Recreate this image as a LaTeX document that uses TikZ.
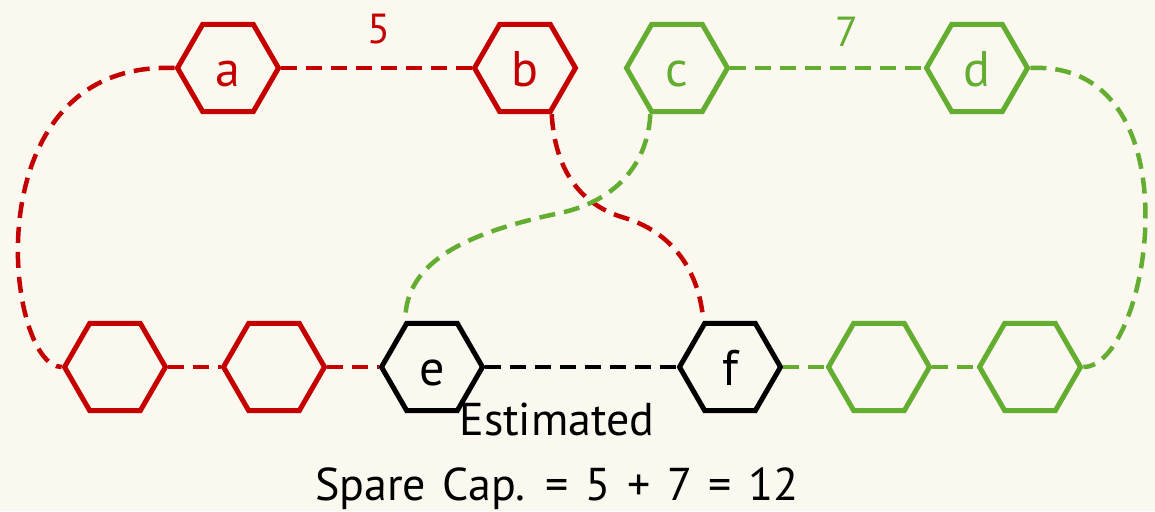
\documentclass[tikz,border=0pt]{standalone}
\usepackage{fontspec}
\setmainfont{PT Sans}
\newfontfamily\capfont[WordSpace=1.35]{PT Sans}
\usetikzlibrary{shapes.geometric}
\definecolor{bgc}{RGB}{251,248,240}
\definecolor{redc}{RGB}{196,0,0}
\definecolor{greenc}{RGB}{99,173,48}
\definecolor{blackc}{RGB}{0,0,0}
\begin{document}
\begin{tikzpicture}[x=1pt,y=-1pt,
  hexa/.style={regular polygon, regular polygon sides=6, minimum size=101pt,
    inner sep=0pt, line width=5pt, line join=miter,
    font=\fontsize{50}{50}\selectfont, text height=36pt, text depth=0pt},
  rhex/.style={hexa, draw=redc, text=redc},
  ghex/.style={hexa, draw=greenc, text=greenc},
  khex/.style={hexa, draw=blackc, text=blackc},
  link/.style={line width=4.5pt, dash pattern=on 16pt off 9pt},
  rlink/.style={link, draw=redc},
  glink/.style={link, draw=greenc},
  klink/.style={link, draw=blackc},
  wlabel/.style={font=\fontsize{42}{42}\selectfont, anchor=base},
  caption/.style={font=\capfont\fontsize{46}{46}\selectfont, anchor=base}]
\fill[bgc] (0,0) rectangle (1155,511);
\useasboundingbox (0,0) rectangle (1155,511);
% top row
\node[rhex] (a) at (228,68) {a};
\node[rhex] (b) at (525,68) {b};
\node[ghex] (c) at (677,68) {c};
\node[ghex] (d) at (977,68) {d};
% bottom row
\node[rhex] (r1) at (115,367) {};
\node[rhex] (r2) at (274,367) {};
\node[khex] (e) at (432,367) {e};
\node[khex] (f) at (730,367) {f};
\node[ghex] (g1) at (879,367) {};
\node[ghex] (g2) at (1030,367) {};
% weights
\node[wlabel, text=redc] (w5) at (379,44) {5};
\node[wlabel, text=greenc] (w7) at (847,47) {7};
% straight links
\draw[rlink] (a.0) -- (b.180);
\draw[glink] (c.0) -- (d.180);
\draw[rlink] (r1.0) -- (r2.180);
\draw[rlink] (r2.0) -- (e.180);
\draw[klink] (e.0) -- (f.180);
\draw[glink] (f.0) -- (g1.180);
\draw[glink] (g1.0) -- (g2.180);
% curved links
\draw[rlink] (a.180) .. controls (-30,60) and (5,367) .. (r1.180);
\draw[glink] (d.0) .. controls (1200,60) and (1150,367) .. (g2.0);
\draw[rlink] (b.300) .. controls (555,170) and (580,205) .. (625,218)
  .. controls (680,235) and (700,280) .. (f.120);
\draw[glink] (c.240) .. controls (648,160) and (620,200) .. (560,213)
  .. controls (470,232) and (405,260) .. (e.120);
% caption
\node[caption] (est) at (557,435) {Estimated};
\node[caption] (spare) at (557,500) {Spare Cap. = 5 + 7 = 12};
\end{tikzpicture}
\end{document}
